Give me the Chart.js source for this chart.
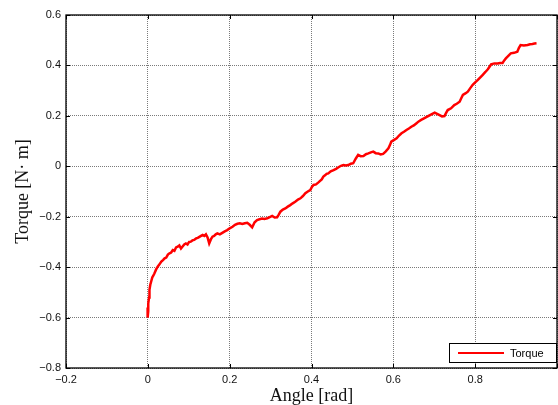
<!DOCTYPE html>
<html>
<head>
<meta charset="utf-8">
<script src="https://cdn.jsdelivr.net/npm/chart.js@4.4.1/dist/chart.umd.min.js"></script>
<style>
  html, body { margin: 0; padding: 0; background: #fff; overflow: hidden; }
  #wrap { width: 558px; height: 405px; overflow: hidden; }
  canvas { display: block; }
</style>
</head>
<body>
<div id="wrap"><canvas id="torque-chart" width="562" height="405"></canvas></div>
<script>
// values
const seriesName = 'Torque';
const xTicks = [-0.2, 0, 0.2, 0.4, 0.6, 0.8, 1.0];
const yTicks = [-0.8, -0.6, -0.4, -0.2, 0, 0.2, 0.4, 0.6];

const angle = [
  0.000, -0.001, 0.000, 0.001, 0.001, 0.003, 0.004, 0.006, 0.008, 0.011,
  0.013, 0.016, 0.020, 0.024, 0.028, 0.033, 0.037, 0.041, 0.045, 0.049,
  0.053, 0.057, 0.061, 0.065, 0.069, 0.073, 0.077, 0.081, 0.085, 0.089,
  0.093, 0.097, 0.101, 0.105, 0.109, 0.113, 0.118, 0.122, 0.126, 0.130,
  0.134, 0.138, 0.142, 0.146, 0.150, 0.154, 0.158, 0.162, 0.166, 0.170,
  0.176, 0.182, 0.188, 0.194, 0.200, 0.207, 0.213, 0.219, 0.225, 0.231,
  0.237, 0.243, 0.249, 0.255, 0.261, 0.267, 0.273, 0.279, 0.285, 0.292,
  0.298, 0.304, 0.310, 0.316, 0.320, 0.324, 0.330, 0.336, 0.342, 0.348,
  0.354, 0.361, 0.367, 0.373, 0.379, 0.385, 0.391, 0.397, 0.401, 0.405,
  0.411, 0.417, 0.421, 0.425, 0.429, 0.433, 0.437, 0.441, 0.447, 0.454,
  0.460, 0.466, 0.472, 0.478, 0.484, 0.490, 0.496, 0.502, 0.508, 0.514,
  0.520, 0.527, 0.533, 0.539, 0.545, 0.551, 0.557, 0.563, 0.569, 0.575,
  0.581, 0.588, 0.592, 0.595, 0.601, 0.608, 0.614, 0.620, 0.626, 0.632,
  0.638, 0.644, 0.650, 0.656, 0.662, 0.668, 0.675, 0.685, 0.693, 0.701,
  0.707, 0.713, 0.719, 0.725, 0.729, 0.733, 0.741, 0.749, 0.755, 0.762,
  0.766, 0.770, 0.776, 0.782, 0.788, 0.794, 0.800, 0.806, 0.812, 0.818,
  0.825, 0.831, 0.839, 0.847, 0.855, 0.861, 0.867, 0.871, 0.875, 0.881,
  0.887, 0.895, 0.903, 0.907, 0.911, 0.919, 0.928, 0.934, 0.940, 0.945,
  0.950
];
const torque = [
  -0.560, -0.590, -0.600, -0.575, -0.545, -0.520, -0.490, -0.470, -0.458, -0.440,
  -0.435, -0.425, -0.410, -0.398, -0.390, -0.378, -0.372, -0.365, -0.362, -0.350,
  -0.345, -0.342, -0.332, -0.335, -0.322, -0.319, -0.314, -0.326, -0.318, -0.310,
  -0.306, -0.310, -0.300, -0.299, -0.294, -0.292, -0.286, -0.284, -0.280, -0.276,
  -0.272, -0.276, -0.270, -0.282, -0.306, -0.290, -0.279, -0.276, -0.270, -0.266,
  -0.270, -0.264, -0.258, -0.253, -0.246, -0.240, -0.232, -0.228, -0.226, -0.229,
  -0.226, -0.224, -0.232, -0.242, -0.222, -0.213, -0.210, -0.207, -0.209, -0.206,
  -0.202, -0.197, -0.203, -0.202, -0.192, -0.180, -0.172, -0.167, -0.160, -0.154,
  -0.147, -0.140, -0.132, -0.127, -0.118, -0.107, -0.100, -0.094, -0.082, -0.074,
  -0.072, -0.064, -0.058, -0.052, -0.041, -0.036, -0.030, -0.028, -0.020, -0.015,
  -0.010, -0.004, 0.002, 0.005, 0.003, 0.005, 0.010, 0.012, 0.030, 0.045,
  0.040, 0.041, 0.048, 0.051, 0.055, 0.058, 0.052, 0.051, 0.047, 0.049,
  0.058, 0.071, 0.085, 0.098, 0.104, 0.111, 0.122, 0.131, 0.137, 0.144,
  0.150, 0.157, 0.162, 0.170, 0.178, 0.184, 0.190, 0.199, 0.206, 0.213,
  0.208, 0.203, 0.198, 0.199, 0.212, 0.223, 0.230, 0.243, 0.248, 0.256,
  0.270, 0.283, 0.289, 0.296, 0.310, 0.323, 0.333, 0.342, 0.352, 0.362,
  0.374, 0.385, 0.404, 0.408, 0.408, 0.410, 0.410, 0.420, 0.428, 0.438,
  0.448, 0.450, 0.454, 0.470, 0.481, 0.479, 0.481, 0.484, 0.485, 0.487,
  0.488
];

const points = angle.map((a, i) => ({ x: a, y: torque[i] }));

const fmt = v => {
  if (Math.abs(v) < 1e-9) return '0';
  return (v < 0 ? '\u2212' : '') + Math.abs(v).toFixed(1);
};

// box round the plot, inward tick marks and the legend, matlab style
const framePlugin = {
  id: 'frame',
  afterDraw(chart) {
    const ctx = chart.ctx;
    const a = chart.chartArea;
    const xs = chart.scales.x, ys = chart.scales.y;
    ctx.save();
    ctx.strokeStyle = '#000';
    ctx.lineWidth = 1.3;
    ctx.strokeRect(a.left, a.top, a.right - a.left, a.bottom - a.top);

    ctx.lineWidth = 1;
    ctx.beginPath();
    xTicks.forEach(v => {
      const px = Math.round(xs.getPixelForValue(v)) + 0.5;
      ctx.moveTo(px, a.bottom); ctx.lineTo(px, a.bottom - 4);
      ctx.moveTo(px, a.top); ctx.lineTo(px, a.top + 4);
    });
    yTicks.forEach(v => {
      const py = Math.round(ys.getPixelForValue(v)) + 0.5;
      ctx.moveTo(a.left, py); ctx.lineTo(a.left + 4, py);
      ctx.moveTo(a.right, py); ctx.lineTo(a.right - 4, py);
    });
    ctx.stroke();

    // legend box
    const bx = 449.5, by = 343.5, bw = 107, bh = 19;
    ctx.fillStyle = '#fff';
    ctx.fillRect(bx, by, bw, bh);
    ctx.strokeStyle = '#000';
    ctx.lineWidth = 1;
    ctx.strokeRect(bx, by, bw, bh);
    ctx.strokeStyle = '#ff0000';
    ctx.lineWidth = 2;
    ctx.beginPath();
    ctx.moveTo(458, by + bh / 2);
    ctx.lineTo(504, by + bh / 2);
    ctx.stroke();
    ctx.fillStyle = '#000';
    ctx.font = '11px "Liberation Sans", Arial, sans-serif';
    ctx.textBaseline = 'middle';
    ctx.textAlign = 'left';
    ctx.fillText(chart.data.datasets[0].label, 510, by + bh / 2 + 0.5);
    ctx.restore();
  }
};

const ctx = document.getElementById('torque-chart').getContext('2d');
new Chart(ctx, {
  type: 'scatter',
  data: {
    datasets: [{
      label: seriesName,
      data: points,
      showLine: true,
      borderColor: '#ff0000',
      backgroundColor: '#ff0000',
      borderWidth: 2.5,
      pointRadius: 0,
      tension: 0
    }]
  },
  options: {
    responsive: false,
    animation: false,
    layout: { padding: { top: 15, right: 2, left: 0, bottom: 0 } },
    plugins: { legend: { display: false }, tooltip: { enabled: false } },
    scales: {
      x: {
        type: 'linear',
        min: -0.2,
        max: 1.0,
        afterBuildTicks: s => { s.ticks = xTicks.map(v => ({ value: v })); },
        afterFit: s => { s.height = 37; },
        grid: { color: '#7a7a7a', lineWidth: 1, drawTicks: false },
        border: { display: false, dash: [1, 1] },
        ticks: {
          color: '#111',
          padding: 5,
          maxRotation: 0,
          font: { family: '"Liberation Sans", Arial, sans-serif', size: 11 },
          callback: v => (v >= 0.999 ? '' : fmt(v))
        },
        title: {
          display: true,
          text: 'Angle [rad]',
          color: '#111',
          font: { family: '"Liberation Serif", "Times New Roman", serif', size: 18, lineHeight: 1 },
          padding: { top: 0, bottom: 0 }
        }
      },
      y: {
        type: 'linear',
        min: -0.8,
        max: 0.6,
        afterBuildTicks: s => { s.ticks = yTicks.map(v => ({ value: v })); },
        afterFit: s => { s.width = 66; },
        grid: { color: '#7a7a7a', lineWidth: 1, drawTicks: false },
        border: { display: false, dash: [1, 1] },
        ticks: {
          color: '#111',
          padding: 5,
          font: { family: '"Liberation Sans", Arial, sans-serif', size: 11 },
          callback: v => fmt(v)
        },
        title: {
          display: true,
          text: 'Torque [N\u00b7 m]',
          color: '#111',
          font: { family: '"Liberation Serif", "Times New Roman", serif', size: 18, lineHeight: 1 },
          padding: { top: 14, bottom: 0 }
        }
      }
    }
  },
  plugins: [framePlugin]
});
</script>
</body>
</html>
